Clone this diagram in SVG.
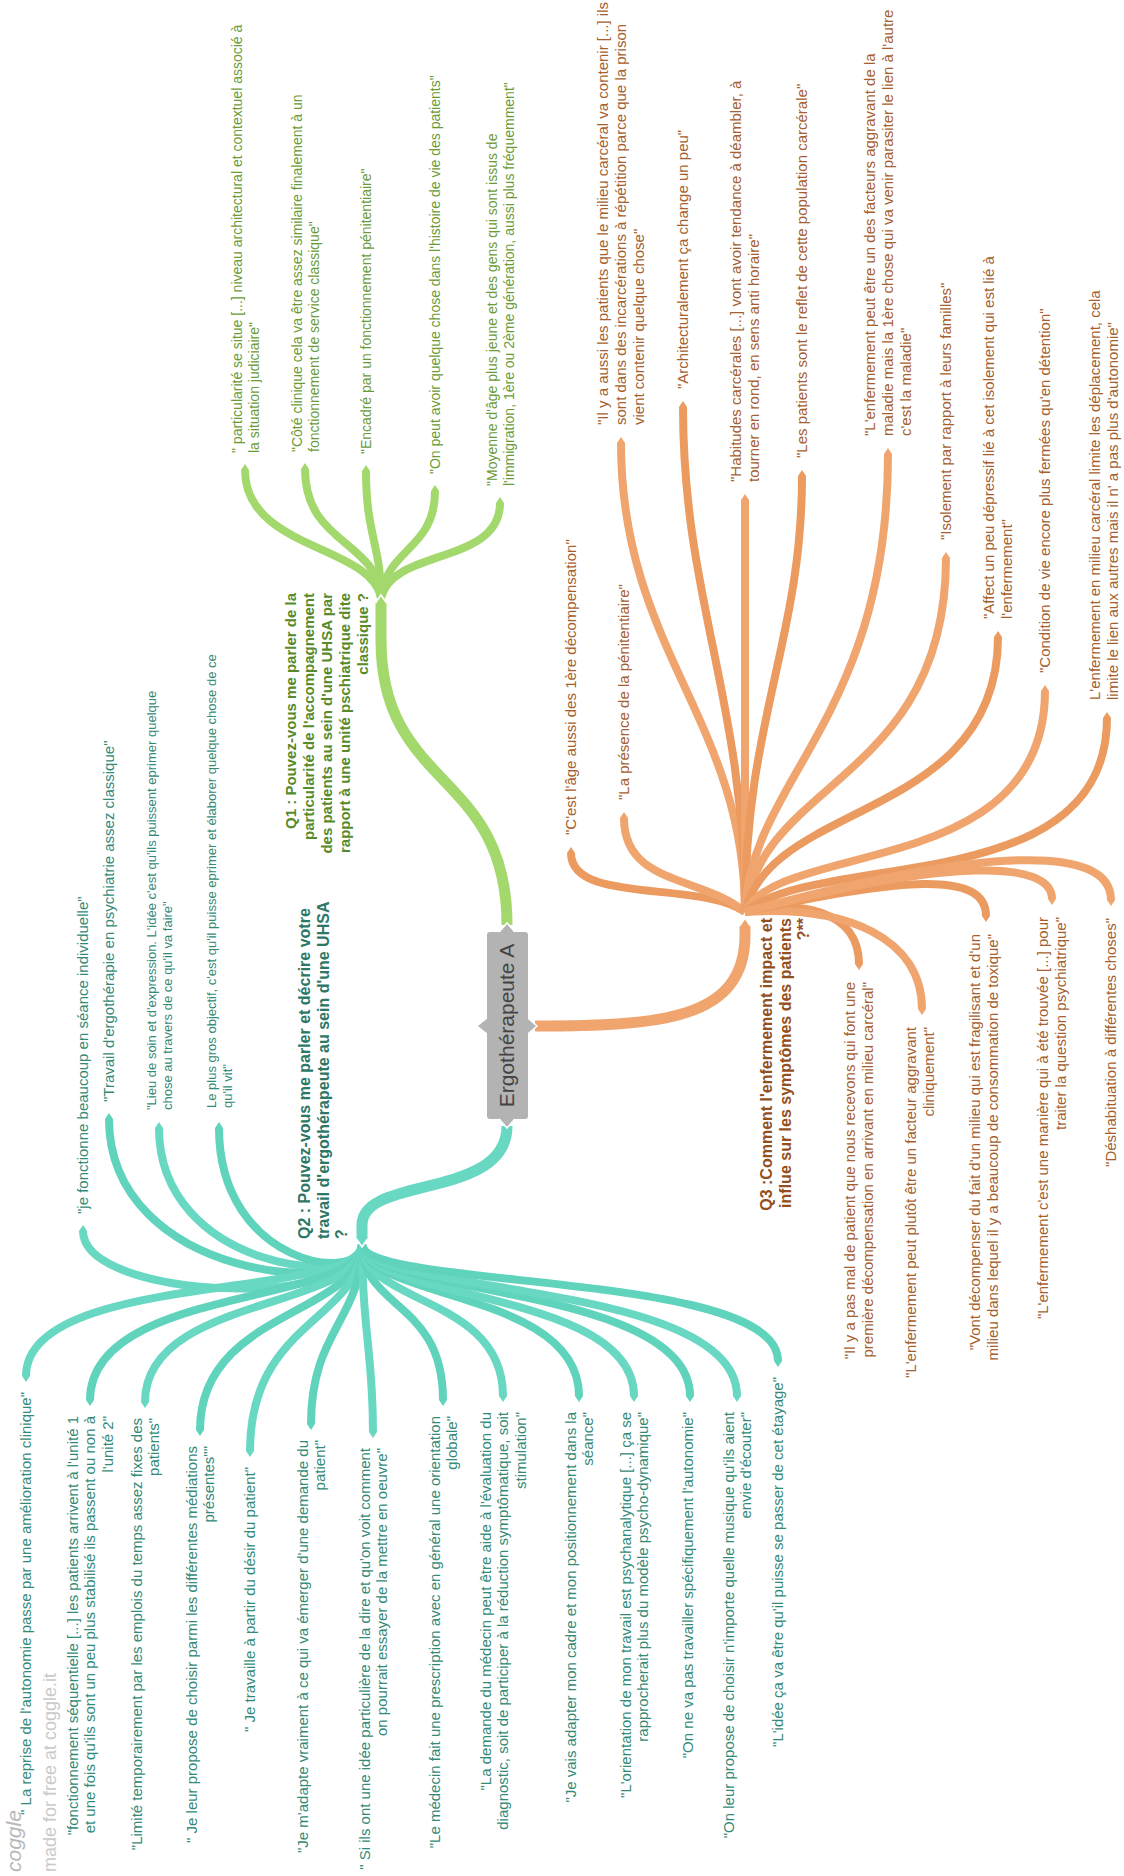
<svg xmlns="http://www.w3.org/2000/svg" width="1124" height="1876" viewBox="0 0 1124 1876">
<style>
text{font-family:"Liberation Sans",Arial,sans-serif}
.b{fill:none;stroke-linecap:butt}
.gr{stroke:#a3d86c}
.te{stroke:#68d8c3}
.te2{stroke:#5fd3bc}
.or{stroke:#f0a56f}
.or2{stroke:#ec9b60}
.leaf{stroke-width:8}
.main{stroke-width:11}
.chev{fill:none;stroke:#fff;stroke-width:1.6}
.s{text-anchor:start}
.e{text-anchor:end}
.tg{fill:#6b9b37;font-size:14px}
.tt{fill:#348a79;font-size:15px}
.tt13{fill:#348a79;font-size:13px}
.to{fill:#a5602f;font-size:15px}
.q1{fill:#568a2a;font-size:15px;font-weight:bold}
.q2{fill:#2d7767;font-size:16px;font-weight:bold}
.q3{fill:#93501f;font-size:16px;font-weight:bold}
</style>
<defs>
<marker id="mg" viewBox="0 -5 7.5 10" markerWidth="0.75" markerHeight="1" refX="0" refY="0" orient="auto"><path d="M0,-5 L7.5,0 L0,5 Z" fill="#a3d86c"/></marker>
<marker id="mt" viewBox="0 -5 7.5 10" markerWidth="0.75" markerHeight="1" refX="0" refY="0" orient="auto"><path d="M0,-5 L7.5,0 L0,5 Z" fill="#68d8c3"/></marker>
<marker id="mt2" viewBox="0 -5 7.5 10" markerWidth="0.75" markerHeight="1" refX="0" refY="0" orient="auto"><path d="M0,-5 L7.5,0 L0,5 Z" fill="#5fd3bc"/></marker>
<marker id="mo" viewBox="0 -5 7.5 10" markerWidth="0.75" markerHeight="1" refX="0" refY="0" orient="auto"><path d="M0,-5 L7.5,0 L0,5 Z" fill="#f0a56f"/></marker>
<marker id="mo2" viewBox="0 -5 7.5 10" markerWidth="0.75" markerHeight="1" refX="0" refY="0" orient="auto"><path d="M0,-5 L7.5,0 L0,5 Z" fill="#ec9b60"/></marker>
</defs>

<g id="connectors" class="b">
<!-- Q1 children -->
<path class="gr leaf" marker-end="url(#mg)" d="M381,598 C372,545 245,550 245,470"/>
<path class="gr leaf" marker-end="url(#mg)" d="M381,598 C378,540 305,545 305,469"/>
<path class="gr leaf" marker-end="url(#mg)" d="M381,598 C381,545 366,535 366,471"/>
<path class="gr leaf" marker-end="url(#mg)" d="M381,598 C386,548 435,550 435,491"/>
<path class="gr leaf" marker-end="url(#mg)" d="M381,598 C392,548 500,565 500,503"/>
<!-- Q2 children -->
<path class="te leaf" marker-end="url(#mt)" d="M362,1244 C362,1310 83,1300 83,1231"/>
<path class="te2 leaf" marker-end="url(#mt2)" d="M362,1244 C362,1300 109,1280 109,1119"/>
<path class="te leaf" marker-end="url(#mt)" d="M362,1244 C362,1290 159,1270 159,1128"/>
<path class="te2 leaf" marker-end="url(#mt2)" d="M362,1244 C362,1285 219,1265 219,1128"/>
<path class="te leaf" marker-end="url(#mt)" d="M362,1244 C362,1300 26,1270 26,1376"/>
<path class="te2 leaf" marker-end="url(#mt2)" d="M362,1244 C362,1305 90,1285 90,1400"/>
<path class="te leaf" marker-end="url(#mt)" d="M362,1244 C362,1310 145,1295 145,1402"/>
<path class="te2 leaf" marker-end="url(#mt2)" d="M362,1244 C362,1315 200,1310 200,1430"/>
<path class="te leaf" marker-end="url(#mt)" d="M362,1244 C362,1320 250,1320 250,1451"/>
<path class="te2 leaf" marker-end="url(#mt2)" d="M362,1244 C362,1320 311,1330 311,1424"/>
<path class="te leaf" marker-end="url(#mt)" d="M362,1244 C362,1330 373,1350 373,1432"/>
<path class="te2 leaf" marker-end="url(#mt2)" d="M362,1244 C362,1310 443,1300 443,1400"/>
<path class="te leaf" marker-end="url(#mt)" d="M362,1244 C362,1305 503,1295 503,1396"/>
<path class="te2 leaf" marker-end="url(#mt2)" d="M362,1244 C362,1300 579,1290 579,1396"/>
<path class="te leaf" marker-end="url(#mt)" d="M362,1244 C362,1300 634,1290 634,1396"/>
<path class="te2 leaf" marker-end="url(#mt2)" d="M362,1244 C362,1295 690,1285 690,1396"/>
<path class="te leaf" marker-end="url(#mt)" d="M362,1244 C362,1295 737,1280 737,1396"/>
<path class="te2 leaf" marker-end="url(#mt2)" d="M362,1244 C362,1290 778,1270 778,1361"/>
<!-- Q3 children -->
<path class="or2 leaf" marker-end="url(#mo2)" d="M745,912 C700,880 571,905 571,853"/>
<path class="or leaf" marker-end="url(#mo)" d="M745,912 C700,875 624,885 624,818"/>
<path class="or leaf" marker-end="url(#mo)" d="M745,912 C745,720 621,650 621,443"/>
<path class="or2 leaf" marker-end="url(#mo2)" d="M745,912 C745,700 683,600 683,407"/>
<path class="or leaf" marker-end="url(#mo)" d="M745,912 L745,500"/>
<path class="or2 leaf" marker-end="url(#mo2)" d="M745,912 C745,720 802,640 802,476"/>
<path class="or leaf" marker-end="url(#mo)" d="M745,912 C750,780 888,720 888,454"/>
<path class="or leaf" marker-end="url(#mo)" d="M745,912 C760,780 946,780 946,558"/>
<path class="or2 leaf" marker-end="url(#mo2)" d="M745,912 C770,800 998,820 998,637"/>
<path class="or leaf" marker-end="url(#mo)" d="M745,912 C780,840 1045,880 1045,691"/>
<path class="or2 leaf" marker-end="url(#mo2)" d="M745,912 C820,850 1107,900 1107,718"/>
<path class="or2 leaf" marker-end="url(#mo2)" d="M745,912 C800,900 859,910 859,964"/>
<path class="or leaf" marker-end="url(#mo)" d="M745,912 C850,905 922,940 922,1009"/>
<path class="or2 leaf" marker-end="url(#mo2)" d="M745,912 C900,878 986,870 986,916"/>
<path class="or leaf" marker-end="url(#mo)" d="M745,912 C950,858 1052,860 1052,899"/>
<path class="or leaf" marker-end="url(#mo)" d="M745,912 C990,845 1111,845 1111,900"/>
<!-- root branches -->
<path class="gr main" marker-end="url(#mg)" d="M507,925 C507,770 381,790 381,640 L381,603"/>
<path class="te main" marker-end="url(#mt)" d="M507,1126 C507,1200 362,1175 362,1225 L362,1239"/>
<path class="or main" marker-end="url(#mo)" d="M535,1026 C660,1026 745,1020 745,935 L745,926"/>
<polyline class="chev" points="375.5,603 381,595 386.5,603"/>
<polyline class="chev" points="356.5,1239 362,1247 367.5,1239"/>
<polyline class="chev" points="739.5,926 745,918 750.5,926"/>
</g>

<g id="root">
<rect x="487" y="932" width="41" height="187" rx="3" fill="#b3b3b3"/>
<polygon points="499,933 507,923 515,933" fill="#b3b3b3"/>
<polyline class="chev" points="499,932 507,923 515,932"/>
<polygon points="499,1118 507,1128 515,1118" fill="#b3b3b3"/>
<polyline class="chev" points="499,1119 507,1128 515,1119"/>
<polygon points="488,1018 478,1026 488,1034" fill="#b3b3b3"/>
<polygon points="527,1018 537,1026 527,1034" fill="#b3b3b3"/>
<polyline class="chev" points="528,1018 537,1026 528,1034"/>
<text transform="translate(507,1025.5) rotate(-90)" text-anchor="middle" y="7.4" font-size="21" fill="#444">Ergothérapeute A</text>
</g>

<g id="q1"><text class="q1 e" transform="translate(327,593) rotate(-90)"><tspan x="0" y="-30.75">Q1 : Pouvez-vous me parler de la</tspan><tspan x="0" y="-12.75">particularité de l'accompagnement</tspan><tspan x="0" y="5.25">des patients au sein d'une UHSA par</tspan><tspan x="0" y="23.25">rapport à une unité pschiatrique dite</tspan><tspan x="0" y="41.25">classique ?</tspan></text></g>
<g id="q2"><text class="q2 s" transform="translate(323,1239) rotate(-90)"><tspan x="0" y="-13">Q2 : Pouvez-vous me parler et décrire votre</tspan><tspan x="0" y="5.5">travail d'ergothérapeute au sein d'une UHSA</tspan><tspan x="0" y="24">?</tspan></text></g>
<g id="q3"><text class="q3 e" transform="translate(785,918) rotate(-90)"><tspan x="0" y="-12.9">Q3 :Comment l'enfermement impact et</tspan><tspan x="0" y="5.6">influe sur les symptômes des patients</tspan><tspan x="0" y="24.1">?**</tspan></text></g>

<!-- Q1 leaves -->
<g id="g1"><text class="tg s" transform="translate(245,453) rotate(-90)"><tspan x="0" y="-3.5">" particularité se situe [...] niveau architectural et contextuel associé à</tspan><tspan x="0" y="13.5">la situation judiciaire"</tspan></text></g>
<g id="g2"><text class="tg s" transform="translate(305,452) rotate(-90)"><tspan x="0" y="-3.5">"Côté clinique cela va être assez similaire finalement à un</tspan><tspan x="0" y="13.5">fonctionnement de service classique"</tspan></text></g>
<g id="g3"><text class="tg s" transform="translate(366,454) rotate(-90)"><tspan x="0" y="5">"Encadré par un fonctionnement pénitentiaire"</tspan></text></g>
<g id="g4"><text class="tg s" transform="translate(435,474) rotate(-90)"><tspan x="0" y="5">"On peut avoir quelque chose dans l'histoire de vie des patients"</tspan></text></g>
<g id="g5"><text class="tg s" transform="translate(500,486) rotate(-90)"><tspan x="0" y="-3.5">"Moyenne d'âge plus jeune et des gens qui sont issus de</tspan><tspan x="0" y="13.5">l'immigration, 1ère ou 2ème génération, aussi plus fréquemment"</tspan></text></g>

<!-- Q2 leaves -->
<g id="ta"><text class="tt s" transform="translate(83,1214) rotate(-90)"><tspan x="0" y="5.25">"je fonctionne beaucoup en séance individuelle"</tspan></text></g>
<g id="tb"><text class="tt s" transform="translate(109,1102) rotate(-90)"><tspan x="0" y="5.25">"Travail d'ergothérapie en psychiatrie assez classique"</tspan></text></g>
<g id="tc"><text class="tt13 s" transform="translate(159,1110) rotate(-90)"><tspan x="0" y="-3">"Lieu de soin et d'expression. L'idée c'est qu'ils puissent eprimer quelque</tspan><tspan x="0" y="12.5">chose au travers de ce qu'il va faire"</tspan></text></g>
<g id="td"><text class="tt13 s" transform="translate(219,1108) rotate(-90)"><tspan x="0" y="-3">Le plus gros objectif, c'est qu'il puisse eprimer et élaborer quelque chose de ce</tspan><tspan x="0" y="12.5">qu'il vit"</tspan></text></g>
<g id="t1"><text class="tt e" transform="translate(26,1392) rotate(-90)"><tspan x="0" y="5.25">" La reprise de l'autonomie passe par une amélioration clinique"</tspan></text></g>
<g id="t2"><text class="tt e" transform="translate(90,1416) rotate(-90)"><tspan x="0" y="-12.25">"fonctionnement séquentielle [...] les patients arrivent à l'unité 1</tspan><tspan x="0" y="5.25">et une fois qu'ils sont un peu plus stabilisé ils passent ou non à</tspan><tspan x="0" y="22.75">l'unité 2"</tspan></text></g>
<g id="t3"><text class="tt e" transform="translate(145,1418) rotate(-90)"><tspan x="0" y="-3.5">"Limité temporairement par les emplois du temps assez fixes des</tspan><tspan x="0" y="14">patients"</tspan></text></g>
<g id="t4"><text class="tt e" transform="translate(200,1446) rotate(-90)"><tspan x="0" y="-3.5">" Je leur propose de choisir parmi les différentes médiations</tspan><tspan x="0" y="14">présentes""</tspan></text></g>
<g id="t5"><text class="tt e" transform="translate(250,1467) rotate(-90)"><tspan x="0" y="5.25">" Je travaille à partir du désir du patient"</tspan></text></g>
<g id="t6"><text class="tt e" transform="translate(311,1440) rotate(-90)"><tspan x="0" y="-3.5">"Je m'adapte vraiment à ce qui va émerger d'une demande du</tspan><tspan x="0" y="14">patient"</tspan></text></g>
<g id="t7"><text class="tt e" transform="translate(373,1448) rotate(-90)"><tspan x="0" y="-3.5">" Si ils ont une idée particulière de la dire et qu'on voit comment</tspan><tspan x="0" y="14">on pourrait essayer de la mettre en oeuvre"</tspan></text></g>
<g id="t8"><text class="tt e" transform="translate(443,1416) rotate(-90)"><tspan x="0" y="-3.5">"Le médecin fait une prescription avec en général une orientation</tspan><tspan x="0" y="14">globale"</tspan></text></g>
<g id="t9"><text class="tt e" transform="translate(503,1412) rotate(-90)"><tspan x="0" y="-12.25">"La demande du médecin peut être aide à l'évaluation du</tspan><tspan x="0" y="5.25">diagnostic, soit de participer à la réduction symptômatique, soit</tspan><tspan x="0" y="22.75">stimulation"</tspan></text></g>
<g id="t10"><text class="tt e" transform="translate(579,1412) rotate(-90)"><tspan x="0" y="-3.5">"Je vais adapter mon cadre et mon positionnement dans la</tspan><tspan x="0" y="14">séance"</tspan></text></g>
<g id="t11"><text class="tt e" transform="translate(634,1412) rotate(-90)"><tspan x="0" y="-3.5">"L'orientation de mon travail est psychanalytique [...] ça se</tspan><tspan x="0" y="14">rapprocherait plus du modèle psycho-dynamique"</tspan></text></g>
<g id="t12"><text class="tt e" transform="translate(688,1412) rotate(-90)"><tspan x="0" y="5.25">"On ne va pas travailler spécifiquement l'autonomie"</tspan></text></g>
<g id="t13"><text class="tt e" transform="translate(737,1412) rotate(-90)"><tspan x="0" y="-3.5">"On leur propose de choisir n'importe quelle musique qu'ils aient</tspan><tspan x="0" y="14">envie d'écouter"</tspan></text></g>
<g id="t14"><text class="tt e" transform="translate(778,1377) rotate(-90)"><tspan x="0" y="5.25">"L'idée ça va être qu'il puisse se passer de cet étayage"</tspan></text></g>

<!-- Q3 leaves -->
<g id="o1"><text class="to s" transform="translate(571,835) rotate(-90)"><tspan x="0" y="5.25">"C'est l'âge aussi des 1ère décompensation"</tspan></text></g>
<g id="o2"><text class="to s" transform="translate(624,800) rotate(-90)"><tspan x="0" y="5.25">"La présence de la pénitentiaire"</tspan></text></g>
<g id="o3"><text class="to s" transform="translate(621,425) rotate(-90)"><tspan x="0" y="-12.75">"Il y a aussi les patients que le milieu carcéral va contenir [...] ils</tspan><tspan x="0" y="5.25">sont dans des incarcérations à répétition parce que la prison</tspan><tspan x="0" y="23.25">vient contenir quelque chose"</tspan></text></g>
<g id="o4"><text class="to s" transform="translate(683,389) rotate(-90)"><tspan x="0" y="5.25">"Architecturalement ça change un peu"</tspan></text></g>
<g id="o5"><text class="to s" transform="translate(745,482) rotate(-90)"><tspan x="0" y="-3.75">"Habitudes carcérales [...] vont avoir tendance à déambler, à</tspan><tspan x="0" y="14.25">tourner en rond, en sens anti horaire"</tspan></text></g>
<g id="o6"><text class="to s" transform="translate(802,458) rotate(-90)"><tspan x="0" y="5.25">"Les patients sont le reflet de cette population carcérale"</tspan></text></g>
<g id="o7"><text class="to s" transform="translate(888,436) rotate(-90)"><tspan x="0" y="-12.75">"L'enfermement peut être un des facteurs aggravant de la</tspan><tspan x="0" y="5.25">maladie mais la 1ère chose qui va venir parasiter le lien à l'autre</tspan><tspan x="0" y="23.25">c'est la maladie"</tspan></text></g>
<g id="o8"><text class="to s" transform="translate(946,540) rotate(-90)"><tspan x="0" y="5.25">"Isolement par rapport à leurs familles"</tspan></text></g>
<g id="o9"><text class="to s" transform="translate(998,619) rotate(-90)"><tspan x="0" y="-3.75">"Affect un peu dépressif lié à cet isolement qui est lié à</tspan><tspan x="0" y="14.25">l'enfermement"</tspan></text></g>
<g id="o10"><text class="to s" transform="translate(1045,673) rotate(-90)"><tspan x="0" y="5.25">"Condition de vie encore plus fermées qu'en détention"</tspan></text></g>
<g id="o11"><text class="to s" transform="translate(1104,700) rotate(-90)"><tspan x="0" y="-3.75">L'enfermement en milieu carcéral limite les déplacement, cela</tspan><tspan x="0" y="14.25">limite le lien aux autres mais il n' a pas plus d'autonomie"</tspan></text></g>
<g id="o12"><text class="to e" transform="translate(859,982) rotate(-90)"><tspan x="0" y="-3.75">"Il y a pas mal de patient que nous recevons qui font une</tspan><tspan x="0" y="14.25">première décompensation en arrivant en milieu carcéral"</tspan></text></g>
<g id="o13"><text class="to e" transform="translate(920,1027) rotate(-90)"><tspan x="0" y="-3.75">"L'enfermement peut plutôt être un facteur aggravant</tspan><tspan x="0" y="14.25">cliniquement"</tspan></text></g>
<g id="o14"><text class="to e" transform="translate(984,934) rotate(-90)"><tspan x="0" y="-3.75">"Vont décompenser du fait d'un milieu qui est fragilisant et d'un</tspan><tspan x="0" y="14.25">milieu dans lequel il y a beaucoup de consommation de toxique"</tspan></text></g>
<g id="o15"><text class="to e" transform="translate(1052,917) rotate(-90)"><tspan x="0" y="-3.75">"L'enfermement c'est une manière qui à été trouvée [...] pour</tspan><tspan x="0" y="14.25">traiter la question psychiatrique"</tspan></text></g>
<g id="o16"><text class="to e" transform="translate(1111,918) rotate(-90)"><tspan x="0" y="5.25">"Déshabituation à différentes choses"</tspan></text></g>

<g id="watermark">
<text transform="translate(21,1872) rotate(-90)" font-family="'DejaVu Serif',serif" font-style="italic" font-size="21" fill="#b8b8b8">coggle</text>
<text transform="translate(56,1872) rotate(-90)" font-size="18" fill="#cacaca">made for free at coggle.it</text>
</g>
</svg>
